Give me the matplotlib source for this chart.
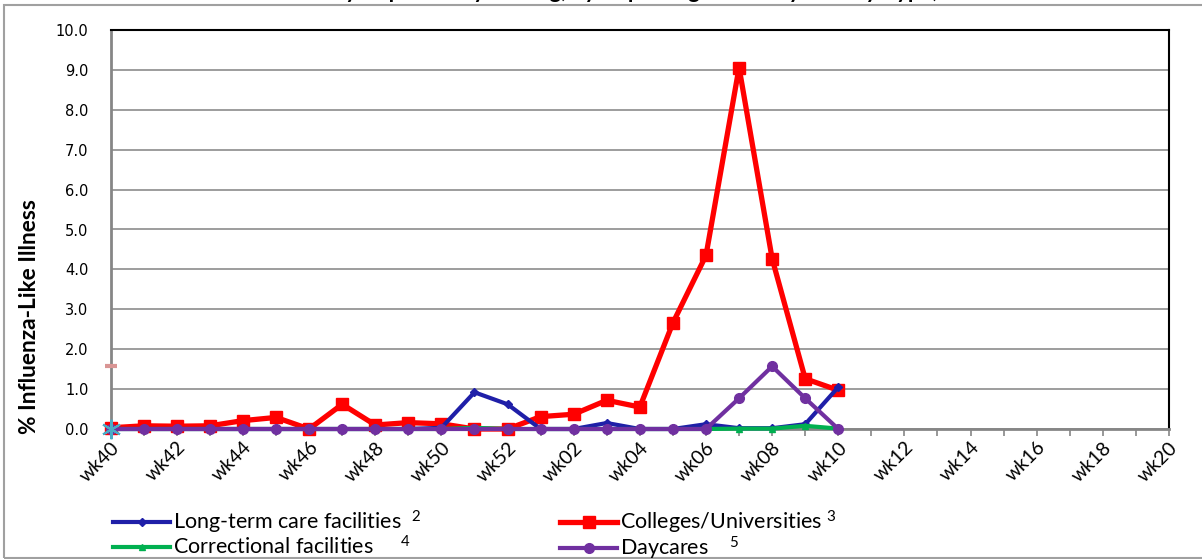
import matplotlib
matplotlib.use("Agg")
import matplotlib.pyplot as plt
from matplotlib.patches import Rectangle
import numpy as np

plt.rcParams['mathtext.fontset'] = 'custom'
plt.rcParams['mathtext.rm'] = 'Lato'
plt.rcParams['mathtext.default'] = 'regular'

weeks = ["wk40", "wk41", "wk42", "wk43", "wk44", "wk45", "wk46", "wk47", "wk48", "wk49",
         "wk50", "wk51", "wk52", "wk01", "wk02", "wk03", "wk04", "wk05", "wk06", "wk07",
         "wk08", "wk09", "wk10", "wk11", "wk12", "wk13", "wk14", "wk15", "wk16", "wk17",
         "wk18", "wk19", "wk20"]

long_term_care = [0, 0, 0, 0, 0, 0, 0, 0, 0, 0, 0.03, 0.92, 0.62, 0, 0, 0.15, 0, 0,
                  0.12, 0.02, 0.02, 0.12, 1.05]
colleges = [0.03, 0.08, 0.07, 0.08, 0.21, 0.29, 0.0, 0.62, 0.1, 0.16, 0.13, 0.0, 0.0,
            0.31, 0.37, 0.72, 0.55, 2.66, 4.35, 9.06, 4.27, 1.26, 0.97]
correctional = [0, 0, 0, 0, 0, 0, 0, 0, 0, 0, 0, 0.03, 0, 0, 0, 0, 0, 0, 0, 0.01, 0.01,
                0.08, 0.01]
daycares = [0, 0, 0, 0, 0, 0, 0, 0, 0, 0, 0, 0, 0, 0, 0, 0, 0, 0, 0, 0.77, 1.57, 0.77, 0]
stray_a = [1.57]
stray_b = [0.0]

W, H = 1202, 559
fig = plt.figure(figsize=(W / 100, H / 100), dpi=100)
ax = fig.add_axes([110.7 / W, 1 - 429 / H, (1169 - 110.7) / W, (429 - 30) / H])

x_all = np.arange(len(weeks))

def xs(vals):
    return x_all[:len(vals)]

ax.plot(xs(long_term_care), long_term_care, color='#1f1fa8', lw=3.0, marker='D', ms=4,
        label='Long-term care facilities  $^{2}$', zorder=3, clip_on=False)
ax.plot(xs(colleges), colleges, color='#ff0000', lw=3.8, marker='s', ms=8,
        label='Colleges/Universities $^{3}$', zorder=2, clip_on=False)
ax.plot(xs(correctional), correctional, color='#00b050', lw=3.0, marker='^', ms=5,
        label='Correctional facilities     $^{4}$', zorder=3, clip_on=False)
ax.plot(xs(daycares), daycares, color='#7030a0', lw=3.0, marker='o', ms=7,
        label='Daycares    $^{5}$', zorder=4, clip_on=False)
ax.plot(xs(stray_a), stray_a, linestyle='none', marker='_', ms=8, mew=3,
        color='#d99594', zorder=5, clip_on=False)
ax.plot(xs(stray_b), stray_b, linestyle='none', marker=(6, 2, 0), ms=14, mew=1.5,
        color='#4bacc6', zorder=5, clip_on=False)

ax.set_xlim(0, len(weeks) - 1)
ax.set_ylim(0, 10)
ax.set_yticks(np.arange(0, 10.01, 1.0))
ax.set_yticklabels([f"{v:.1f}" for v in np.arange(0, 10.01, 1.0)], fontsize=10.5,
                   family='DejaVu Sans')
ax.set_xticks(x_all)
ax.set_xticklabels([w if i % 2 == 0 else "" for i, w in enumerate(weeks)],
                   rotation=45, ha='right', va='top', rotation_mode='anchor',
                   fontsize=14, family='Lato')
ax.tick_params(axis='x', length=5, color='#868686', width=1.2, pad=2)
ax.tick_params(axis='y', length=0, pad=16)
ax.grid(axis='y', color='#8c8c8c', lw=1.2)
ax.set_axisbelow(True)
for s in ['left', 'bottom']:
    ax.spines[s].set_color('#868686')
    ax.spines[s].set_linewidth(2)
for s in ['top', 'right']:
    ax.spines[s].set_color('black')
    ax.spines[s].set_linewidth(1.5)

fig.text(30 / W, 1 - 317 / H, '% Influenza-Like Illness', rotation=90, ha='center',
         va='center', fontsize=16.3, fontweight='bold', family='Lato')

h = ax.get_lines()
common = dict(loc='upper left', frameon=False, prop={'family': 'Lato', 'size': 15.5},
              handlelength=2.65, handletextpad=0.15, labelspacing=-0.05,
              borderaxespad=0, borderpad=0)
leg1 = fig.legend([h[0], h[2]], [h[0].get_label(), h[2].get_label()],
                  bbox_to_anchor=(113 / W, 1 - 509 / H), **common)
leg2 = fig.legend([h[1], h[3]], [h[1].get_label(), h[3].get_label()],
                  bbox_to_anchor=(560 / W, 1 - 509 / H), **common)

fig.text(0.5, 1 + 2.5 / H, 'Outbreak ILI Activity Reported by Setting, by Reporting Period by Facility Type, 2009-2010',
         ha='center', va='baseline', fontsize=16, fontweight='bold', family='Lato')

fig.patches.append(Rectangle((4 / W, 1 - 558 / H), 1.2, (558 - 5) / H,
                             transform=fig.transFigure, fill=False,
                             edgecolor='#a0a0a0', lw=1.5, clip_on=False))

fig.savefig('out.png', dpi=100)
